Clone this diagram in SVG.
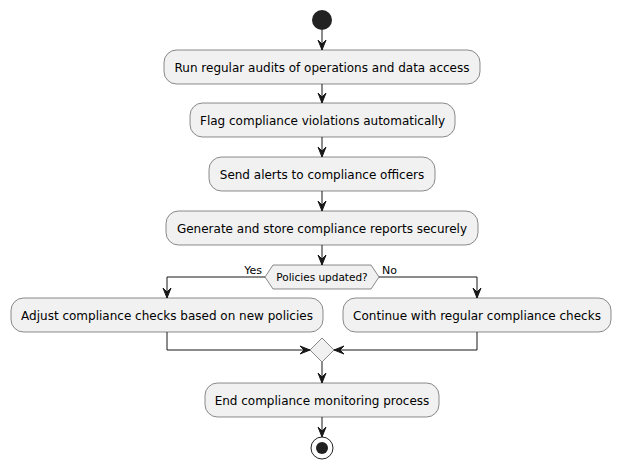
<svg xmlns="http://www.w3.org/2000/svg" width="621" height="469" viewBox="0 0 621 469">
<style>
.box{fill:#F1F1F1;stroke:#181818;stroke-width:0.5}
.t{font-family:"DejaVu Sans",sans-serif;font-size:12px;fill:#000;text-anchor:middle}
.s{font-family:"DejaVu Sans",sans-serif;font-size:11px;fill:#000}
.ln{fill:none;stroke:#181818;stroke-width:1}
.ah{fill:#181818;stroke:#181818;stroke-width:1}
</style>
<rect width="621" height="469" fill="#FFFFFF"/>
<g id="start"><circle cx="322" cy="20" r="10" fill="#222222"/></g>
<g id="n1"><rect class="box" x="164" y="50" width="316" height="34" rx="12.5"/><text class="t" x="322" y="71.5">Run regular audits of operations and data access</text></g>
<g id="n2"><rect class="box" x="190" y="103" width="265" height="34" rx="12.5"/><text class="t" x="322.5" y="124.5">Flag compliance violations automatically</text></g>
<g id="n3"><rect class="box" x="209" y="157" width="226" height="34" rx="12.5"/><text class="t" x="322" y="178.5">Send alerts to compliance officers</text></g>
<g id="n4"><rect class="box" x="166" y="211" width="312" height="34" rx="12.5"/><text class="t" x="322" y="232.5">Generate and store compliance reports securely</text></g>
<g id="d1"><polygon class="box" points="265,277 273,265 371,265 379,277 371,289 273,289"/><text class="s" x="322" y="281" text-anchor="middle" style="font-size:10.5px">Policies updated?</text></g>
<g id="n5"><rect class="box" x="11" y="298" width="312" height="34" rx="12.5"/><text class="t" x="167" y="319.5">Adjust compliance checks based on new policies</text></g>
<g id="n6"><rect class="box" x="343" y="298" width="268" height="34" rx="12.5"/><text class="t" x="477" y="319.5">Continue with regular compliance checks</text></g>
<g id="m1"><polygon class="box" points="322,338 334,350 322,362 310,350"/></g>
<g id="n7"><rect class="box" x="205" y="383" width="234" height="34" rx="12.5"/><text class="t" x="322" y="404.5">End compliance monitoring process</text></g>
<g id="end"><circle cx="322" cy="448" r="11" fill="none" stroke="#222222" stroke-width="1"/><circle cx="322" cy="448" r="6" fill="#222222"/></g>
<g id="connectors">
<path class="ln" d="M322,30 V50"/><polygon class="ah" points="318,40 322,50 326,40 322,44"/>
<path class="ln" d="M322,84 V103"/><polygon class="ah" points="318,93 322,103 326,93 322,97"/>
<path class="ln" d="M322,137 V157"/><polygon class="ah" points="318,147 322,157 326,147 322,151"/>
<path class="ln" d="M322,191 V211"/><polygon class="ah" points="318,201 322,211 326,201 322,205"/>
<path class="ln" d="M322,245 V265"/><polygon class="ah" points="318,255 322,265 326,255 322,259"/>
<path class="ln" d="M265,277 H167 V298"/><polygon class="ah" points="163,288 167,298 171,288 167,292"/>
<path class="ln" d="M379,277 H477 V298"/><polygon class="ah" points="473,288 477,298 481,288 477,292"/>
<text class="s" x="262" y="274" text-anchor="end">Yes</text>
<text class="s" x="382" y="274">No</text>
<path class="ln" d="M167,332 V350 H310"/><polygon class="ah" points="300,346 310,350 300,354 304,350"/>
<path class="ln" d="M477,332 V350 H334"/><polygon class="ah" points="344,346 334,350 344,354 340,350"/>
<path class="ln" d="M322,362 V383"/><polygon class="ah" points="318,373 322,383 326,373 322,377"/>
<path class="ln" d="M322,417 V437"/><polygon class="ah" points="318,427 322,437 326,427 322,431"/>
</g>
</svg>
